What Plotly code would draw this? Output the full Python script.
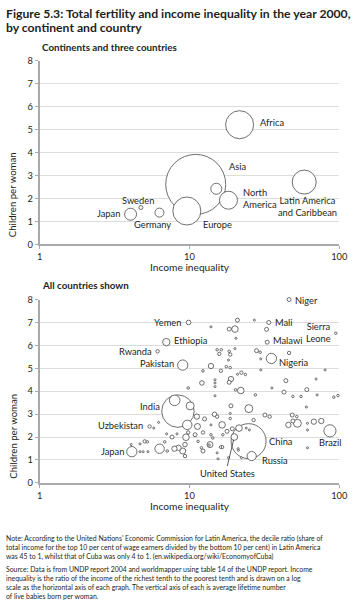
import numpy as np
import plotly.graph_objects as go

W, H = 357, 604

# ---------------- Data: continents and three countries ----------------
top_names = ["Africa", "Asia", "Europe", "North America", "Latin America and Caribbean",
             "Japan", "Sweden", "Germany", ""]
top_ineq = [21.6, 11.0, 9.6, 18.2, 58.3, 4.04, 4.74, 6.3, 15.1]
top_fert = [5.21, 2.61, 1.45, 1.92, 2.71, 1.31, 1.60, 1.38, 2.42]
top_pop = [745, 3410, 745, 307, 546, 136, 15, 77, 115]

# ---------------- Data: all countries ----------------
lab_names = ["Niger", "Yemen", "Mali", "Sierra Leone", "Ethiopia", "Malawi", "Rwanda",
             "Pakistan", "Nigeria", "India", "Uzbekistan", "China", "Brazil", "Japan",
             "Russia", "United States"]
lab_ineq = [46.2, 9.86, 33.8, 94.7, 7.0, 33.0, 6.12, 9.01, 35.2, 8.37, 5.41, 24.8, 86.6,
            4.12, 26.0, 19.9]
lab_fert = [8.0, 7.0, 7.0, 6.53, 6.14, 6.14, 5.74, 5.14, 5.43, 3.13, 2.46, 1.82, 2.27,
            1.36, 1.17, 2.0]
lab_pop = [15, 20, 15, 6, 52, 15, 11, 100, 100, 1000, 11, 1160, 140, 100, 80, 42]

oth_ineq = [20.9, 27.1, 13.9, 18.4, 20.1, 32.7, 20.4, 15.3, 16.3, 15.8, 18.4, 18.7, 20.1,
            18.2, 28.0, 29.6, 29.9, 46.2, 13.9, 12.3, 16.2, 17.6, 18.7, 20.9, 22.2, 23.6,
            18.9, 18.4, 29.9, 80.4, 12.1, 14.8, 14.8, 14.8, 70.0, 44.0, 9.8, 22.0, 20.3,
            27.5, 35.5, 42.7, 49.0, 55.5, 60.7, 71.1, 91.9, 98.0, 14.8, 7.96, 10.1, 18.9,
            24.9, 9.66, 9.47, 9.33, 11.2, 12.6, 11.3, 12.3, 10.9, 14.7, 15.3, 16.5, 13.9,
            18.7, 19.3, 21.4, 23.9, 25.1, 16.7, 13.9, 26.8, 31.9, 34.3, 48.5, 52.0, 49.0,
            52.5, 45.7, 67.6, 75.8, 60.3, 61.3, 61.3, 61.3, 9.8, 21.1, 22.2, 16.5, 13.7,
            12.3, 12.0, 15.3, 4.67, 4.9, 5.28, 4.08, 4.67, 5.02, 5.23, 5.77, 6.22, 6.31,
            6.83, 7.1, 7.65, 7.93, 8.45, 9.01, 9.33, 11.4, 7.03, 8.25, 18.7, 17.8, 14.3,
            16.1, 13.5, 21.2, 15.5, 18.2]
oth_fert = [7.1, 7.1, 6.81, 6.71, 6.71, 6.7, 6.31, 5.81, 5.81, 5.63, 5.74, 5.6, 5.86,
            5.36, 5.77, 5.7, 5.41, 5.67, 5.1, 4.89, 4.89, 5.07, 5.03, 4.74, 4.81, 4.73,
            4.53, 4.39, 4.93, 4.93, 4.36, 4.5, 4.36, 4.2, 4.53, 4.46, 4.14, 4.03, 4.06,
            3.84, 4.14, 3.96, 3.77, 3.77, 4.07, 3.84, 3.74, 3.81, 3.8, 3.6, 3.36, 3.36,
            3.24, 2.53, 1.99, 1.67, 2.89, 2.79, 2.46, 2.2, 2.1, 2.99, 2.89, 2.53, 2.53,
            2.81, 2.36, 2.39, 2.39, 2.31, 2.1, 2.1, 2.74, 2.96, 2.89, 2.96, 2.89, 2.7,
            2.6, 2.53, 2.67, 2.7, 3.31, 2.6, 2.31, 1.53, 2.2, 1.49, 1.1, 1.56, 1.67,
            1.39, 1.53, 1.31, 1.36, 1.36, 1.36, 1.67, 1.7, 1.81, 1.79, 2.39, 2.64, 1.49,
            1.79, 1.39, 2.0, 1.49, 1.53, 1.39, 1.17, 1.81, 2.14, 2.14, 3.03, 2.25, 1.96,
            1.56, 1.65, 1.42, 1.05, 1.1]
oth_pop = [15, 4, 4, 15, 41, 15, 4, 6, 6, 11, 6, 11, 4,
           4, 15, 6, 4, 11, 27, 6, 11, 6, 6, 4, 11, 6,
           27, 15, 4, 4, 20, 4, 4, 4, 4, 15, 6, 41, 6,
           6, 4, 15, 6, 6, 15, 4, 6, 6, 4, 106, 60, 15,
           60, 84, 41, 20, 27, 15, 34, 11, 15, 20, 11, 41, 4,
           6, 15, 41, 4, 4, 6, 6, 11, 15, 11, 15, 6, 15,
           60, 27, 27, 27, 4, 4, 4, 4, 11, 4, 4, 11, 34,
           15, 6, 4, 4, 4, 4, 4, 4, 11, 6, 4, 4, 84,
           6, 6, 15, 27, 27, 34, 11, 6, 4, 4, 4, 15, 6,
           6, 6, 4, 4, 4]

notes = ("Note: According to the United Nations' Economic Commission for Latin America, the decile ratio (share of<br>"
         "total income for the top 10 per cent of wage earners divided by the bottom 10 per cent) in Latin America<br>"
         "was 45 to 1, whilst that of Cuba was only 4 to 1. (en.wikipedia.org/wiki/EconomyofCuba)")
source = ("Source: Data is from UNDP report 2004 and worldmapper using table 14 of the UNDP report. Income<br>"
          "inequality is the ratio of the income of the richest tenth to the poorest tenth and is drawn on a log<br>"
          "scale as the horizontal axis of each graph. The vertical axis of each is average lifetime number<br>"
          "of live babies born per woman.")

# ---------------- Styling ----------------
FONT = "Lato"
TXT = "#231f20"
SIZEREF = 1.895
LINE = dict(color="#4a4a4a", width=0.8)
LBL = 9.3


def px_y(py):
    return 1 - py / H


fig = go.Figure()


def bubbles(xs, ys, pops, xa, ya):
    order = np.argsort(pops)[::-1]
    fig.add_trace(go.Scatter(
        x=[xs[i] for i in order], y=[ys[i] for i in order], mode="markers",
        marker=dict(size=[pops[i] for i in order], sizemode="area", sizeref=SIZEREF,
                    sizemin=1, color="white", line=LINE, opacity=1),
        xaxis=xa, yaxis=ya, cliponaxis=False, hoverinfo="skip", showlegend=False))


bubbles(top_ineq, top_fert, top_pop, "x", "y")
bubbles(lab_ineq + oth_ineq, lab_fert + oth_fert, lab_pop + oth_pop, "x2", "y2")

annotations = []

# point labels, offsets in pixels
top_label_style = {
    "Africa": ("Africa", "left", 18, 2),
    "Asia": ("Asia", "left", 31, 18),
    "Europe": ("Europe", "left", 14, -13),
    "North America": ("North<br>America", "left", 13, 2),
    "Latin America and Caribbean": ("Latin America<br>and Caribbean", "center", 3, -24),
    "Japan": ("Japan", "right", -9, 1),
    "Sweden": ("Sweden", "center", -3, 7),
    "Germany": ("Germany", "center", -7, -12),
}
for n, xv, yv in zip(top_names, top_ineq, top_fert):
    if n in top_label_style:
        t, xa, xs, ys = top_label_style[n]
        annotations.append(dict(x=np.log10(xv), y=yv, xref="x", yref="y", text=t,
                                xanchor=xa, yanchor="middle", xshift=xs, yshift=ys,
                                align="center" if xa == "center" else "left",
                                showarrow=False, font=dict(family=FONT, size=LBL, color=TXT)))

bot_label_style = {
    "Niger": ("Niger", "left", 4, -1),
    "Yemen": ("Yemen", "right", -6, 0),
    "Mali": ("Mali", "left", 4, 0),
    "Sierra Leone": ("Sierra<br>Leone", "right", -3, 1),
    "Ethiopia": ("Ethiopia", "left", 6, 2),
    "Malawi": ("Malawi", "left", 4, 2),
    "Rwanda": ("Rwanda", "right", -4, 0),
    "Pakistan": ("Pakistan", "right", -7, 2),
    "Nigeria": ("Nigeria", "left", 6, -4),
    "India": ("India", "right", -16, 5),
    "Uzbekistan": ("Uzbekistan", "right", -5, 1),
    "China": ("China", "left", 18, 0),
    "Brazil": ("Brazil", "center", 0, -12),
    "Japan": ("Japan", "right", -6, 0),
    "Russia": ("Russia", "left", 8, -4),
}
for n, xv, yv in zip(lab_names, lab_ineq, lab_fert):
    if n in bot_label_style:
        t, xa, xs, ys = bot_label_style[n]
        annotations.append(dict(x=np.log10(xv), y=yv, xref="x2", yref="y2", text=t,
                                xanchor=xa, yanchor="middle", xshift=xs, yshift=ys,
                                align="center", showarrow=False,
                                font=dict(family=FONT, size=LBL, color=TXT)))
    elif n == "United States":
        annotations.append(dict(x=np.log10(xv), y=yv, xref="x2", yref="y2", text=n,
                                showarrow=True, arrowhead=0, arrowwidth=0.8, arrowcolor="#333",
                                ax=-7, ay=29, standoff=3, xanchor="center", yanchor="top",
                                font=dict(family=FONT, size=LBL, color=TXT)))

# titles
annotations += [
    dict(x=1 / W, y=px_y(8), xref="paper", yref="paper", xanchor="left", yanchor="middle",
         text="<b>Figure 5.3: Total fertility and income inequality in the year 2000,</b>",
         showarrow=False, font=dict(family=FONT, size=12.2, color=TXT)),
    dict(x=1 / W, y=px_y(22), xref="paper", yref="paper", xanchor="left", yanchor="middle",
         text="<b>by continent and country</b>",
         showarrow=False, font=dict(family=FONT, size=12.2, color=TXT)),
    dict(x=38 / W, y=px_y(42), xref="paper", yref="paper", xanchor="left", yanchor="middle",
         text="<b>Continents and three countries</b>",
         showarrow=False, font=dict(family=FONT, size=9.8, color=TXT)),
    dict(x=38 / W, y=px_y(284), xref="paper", yref="paper", xanchor="left", yanchor="middle",
         text="<b>All countries shown</b>",
         showarrow=False, font=dict(family=FONT, size=9.8, color=TXT)),
    dict(x=193 / W, y=px_y(266), xref="paper", yref="paper", xanchor="center", yanchor="middle",
         text="Income inequality", showarrow=False, font=dict(family=FONT, size=10.2, color=TXT)),
    dict(x=193 / W, y=px_y(509), xref="paper", yref="paper", xanchor="center", yanchor="middle",
         text="Income inequality", showarrow=False, font=dict(family=FONT, size=10.2, color=TXT)),
    dict(x=10 / W, y=px_y(192), xref="paper", yref="paper", xanchor="center", yanchor="middle",
         text="Children per woman", textangle=-90, showarrow=False,
         font=dict(family=FONT, size=9.6, color=TXT)),
    dict(x=10 / W, y=px_y(438), xref="paper", yref="paper", xanchor="center", yanchor="middle",
         text="Children per woman", textangle=-90, showarrow=False,
         font=dict(family=FONT, size=9.6, color=TXT)),
    dict(x=1 / W, y=px_y(536), xref="paper", yref="paper", xanchor="left", yanchor="top",
         text=notes, align="left", showarrow=False, font=dict(family=FONT, size=6.9, color=TXT)),
    dict(x=1 / W, y=px_y(567), xref="paper", yref="paper", xanchor="left", yanchor="top",
         text=source, align="left", showarrow=False, font=dict(family=FONT, size=6.9, color=TXT)),
]

xdom = [38 / W, 348 / W]
xcommon = dict(type="log", range=[0, 2], tickvals=[1, 10, 100], ticktext=["1", "10", "100"],
               showgrid=False, showline=True, linecolor="#a7a9ac", linewidth=1.5,
               ticks="outside", ticklen=3, tickcolor="#a7a9ac", zeroline=False,
               ticklabeloverflow="allow", ticklabelstandoff=0,
               tickfont=dict(family=FONT, size=9.3, color=TXT), domain=xdom)
ycommon = dict(range=[0, 8], dtick=1, showgrid=True, gridcolor="#dcdddf", gridwidth=1,
               showline=True, linecolor="#a7a9ac", linewidth=2, ticks="outside", ticklen=3,
               tickcolor="#a7a9ac", zeroline=False,
               tickfont=dict(family=FONT, size=9.3, color=TXT))

fig.update_layout(
    width=W, height=H, margin=dict(l=0, r=0, t=0, b=0),
    paper_bgcolor="white", plot_bgcolor="white", showlegend=False,
    xaxis=dict(**xcommon, anchor="y"),
    yaxis=dict(**ycommon, anchor="x", domain=[px_y(242.7), px_y(55.7)]),
    xaxis2=dict(**xcommon, anchor="y2"),
    yaxis2=dict(**ycommon, anchor="x2", domain=[px_y(485.7), px_y(299)]),
    annotations=annotations,
)

fig.write_html("out.html", config={"displayModeBar": False},
               post_script="document.body.style.margin='0';document.body.style.overflow='hidden';")
